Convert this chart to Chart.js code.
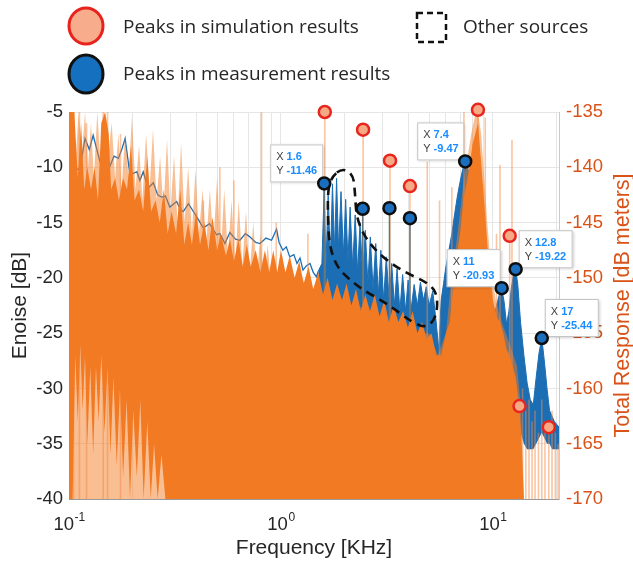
<!DOCTYPE html>
<html>
<head>
<meta charset="utf-8">
<title>Enoise and Total Response</title>
<script src="https://cdn.jsdelivr.net/npm/chart.js@4.4.0/dist/chart.umd.min.js"></script>
<style>
  html, body { margin: 0; padding: 0; background: #fff; }
  canvas { display: block; }
</style>
</head>
<body>
<canvas id="noiseChart" width="633" height="564"></canvas>
<script>
// ---- measurement (Enoise, left axis, dB) ----
const measLineFreq = [0.105,0.1127,0.119,0.1247,0.130,0.140,0.148,0.156,0.163,0.171,0.178,0.184,0.194,0.209,0.216,0.224,0.236,0.250,0.262,0.273,0.285,0.299,0.322,0.335,0.346,0.366,0.386,0.410,0.430,0.460,0.497,0.515,0.544,0.574,0.610,0.640,0.680,0.715,0.760,0.797,0.850,0.903,0.953,0.980,1.02,1.06,1.10,1.15,1.19,1.23,1.27,1.32,1.37,1.42,1.47,1.50];
const measLineVal = [-10.3,-10.1,-7.4,-8.4,-7.1,-9.5,-9.0,-9.9,-9.0,-9.2,-8.3,-7.4,-10.7,-10.4,-11.2,-10.4,-11.9,-11.4,-12.5,-12.7,-12.6,-13.6,-13.1,-13.8,-14.0,-13.3,-14.0,-14.8,-15.5,-15.1,-16.1,-16.0,-16.9,-15.9,-16.5,-16.6,-16.0,-16.3,-16.8,-16.9,-16.4,-16.6,-15.6,-16.8,-17.5,-17.2,-18.1,-17.9,-18.7,-18.2,-19.3,-18.9,-18.7,-19.5,-19.9,-19.4];

const measBandFreq = [1.50,1.56,1.60,1.63,1.67,1.71,1.75,1.79,1.83,1.87,
  1.92,1.97,2.02,2.07,2.12,2.18,2.24,2.30,2.36,2.43,
  2.50,2.57,2.64,2.72,2.80,2.88,2.96,3.05,3.14,3.24,
  3.33,3.43,3.53,3.64,3.75,3.87,3.98,4.10,4.25,4.40,
  4.55,4.70,4.85,5.00,5.20,5.40,5.55,5.70,5.85,6.00,
  6.20,6.40,6.60,6.80,7.00,7.20,7.40,7.60,7.80,8.00,
  8.30,8.60,8.90,9.20,9.60,10.0,10.4,10.8,11.0,11.3,
  11.6,11.9,12.2,12.5,12.8,13.1,13.5,14.0,14.5,15.0,
  15.5,16.0,16.5,17.0,17.5,18.0,18.5,19.0,19.5,20.5];
const measBandTop = [-19.4,-18.7,-11.8,-19.0,-12.3,-18.5,-11.5,-17.5,-11.0,-17.5,
  -12.2,-18.0,-12.9,-18.5,-13.6,-19.0,-14.3,-19.5,-15.0,-20.0,
  -15.7,-20.5,-16.3,-21.0,-16.9,-21.5,-17.5,-22.0,-18.1,-22.0,
  -18.7,-22.5,-19.2,-23.0,-19.7,-23.0,-20.2,-23.0,-20.6,-22.5,
  -20.4,-22.0,-20.8,-22.5,-21.2,-24.0,-26.5,-22.0,-20.5,-19.0,
  -17.5,-16.0,-14.2,-12.6,-11.3,-10.2,-9.5,-10.0,-10.9,-12.0,
  -14.0,-16.6,-19.0,-21.7,-24.5,-24.0,-22.5,-21.3,-20.9,-22.2,
  -24.2,-23.0,-21.0,-19.7,-19.2,-20.6,-24.0,-27.0,-29.5,-31.0,
  -31.5,-29.0,-26.8,-25.4,-27.6,-30.0,-32.0,-32.5,-33.0,-33.5];
const measBandBottom = [-20.5,-22,-22.5,-23,-23,-23,-23,-23,-23.5,-23.5,
  -24,-24,-24,-24,-24.5,-24.5,-24.5,-25,-25,-25,
  -25,-25,-25.5,-25.5,-25.5,-26,-26,-26,-26,-26,
  -26,-26.5,-26.5,-26.5,-26.5,-27,-27,-27,-27,-27,
  -27,-27.5,-27.5,-27.5,-27.5,-28,-28.5,-28,-28,-28,
  -28,-28,-28,-28,-28,-28,-28,-28,-28,-28,
  -28,-28,-29,-29.5,-30,-30,-30,-30,-30,-30.5,
  -31,-31,-31.5,-32,-32.5,-33,-34,-35,-35.5,-35.5,
  -35.5,-35,-34.5,-34,-34.5,-35,-35,-35.5,-35.5,-35.5];

// ---- simulation (Total Response, right axis, dB meters) ----
const simEnvFreq = [0.1,0.103,0.107,0.111,0.115,0.119,0.123,0.127,0.131,0.136,
  0.141,0.147,0.153,0.159,0.165,0.171,0.177,0.184,0.191,0.198,
  0.206,0.214,0.222,0.231,0.240,0.249,0.259,0.269,0.279,0.290,
  0.301,0.313,0.325,0.338,0.351,0.365,0.380,0.395,0.410,0.427,
  0.444,0.462,0.480,0.500,0.520,0.540,0.562,0.585,0.608,0.632,
  0.657,0.684,0.711,0.740,0.770,0.800,0.832,0.866,0.900,0.936,
  0.974,1.013,1.053,1.095,1.140,1.185,1.232,1.280,1.330,1.385,
  1.44,1.50,1.60,1.80,2.00,2.30,2.60,3.00,3.50,4.00,
  4.50,5.00,5.50,6.00,6.30,6.70,7.00,7.30,7.60,7.90,
  8.20,8.50,8.80,9.10,9.40,9.80,10.3,11.0,12.0,13.0,
  13.6,14.0,20.5];
const simEnvVal = [-135,-135,-140,-135,-139,-135,-140,-136,-141,-135,
  -140,-135,-139,-136,-141,-137,-142,-137,-141,-135.5,
  -142,-138,-143,-137,-142,-136.6,-143,-139,-144,-137.5,
  -144,-139,-145,-137.8,-145,-140,-146,-140.2,-146,-142,
  -147,-142,-147,-140.9,-148,-142,-148,-143,-149,-143,
  -149,-144,-150,-145,-150,-146,-151,-147,-151,-148,
  -152,-148,-152,-149,-153,-150,-153,-150,-154,-151,
  -154,-152,-153,-152,-153,-152.5,-153,-154,-154,-154.5,
  -155,-155,-157,-155,-151,-147,-144,-141,-139,-137,
  -135.5,-135,-137,-141,-145,-149,-152,-154,-156,-158,
  -162,-170,-170];

const simBodyFreq = [0.1,0.106,0.110,0.114,0.118,0.122,0.127,0.132,0.137,0.142,
  0.148,0.154,0.158,0.165,0.172,0.180,0.188,0.196,0.204,0.214,
  0.224,0.234,0.244,0.256,0.268,0.280,0.292,0.305,0.320,0.335,
  0.350,0.365,0.380,0.398,0.415,0.435,0.455,0.475,0.500,0.520,
  0.550,0.575,0.600,0.630,0.660,0.690,0.720,0.760,0.800,0.840,
  0.880,0.920,0.960,1.00,1.05,1.10,1.16,1.22,1.28,1.35,
  1.42,1.50,1.58,1.66,1.75,1.84,1.94,2.04,2.15,2.26,
  2.38,2.50,2.63,2.77,2.92,3.07,3.23,3.40,3.58,3.77,
  3.97,4.18,4.40,4.63,4.87,5.13,5.40,5.70,6.00,6.25,
  6.50,6.75,7.00,7.25,7.50,7.75,8.00,8.25,8.50,8.75,
  9.00,9.25,9.50,9.75,10.0,10.4,10.8,11.2,11.6,12.0,
  12.4,12.8,13.2,13.6,14.0,20.5];
const simBodyTop = [-135,-135,-141,-136,-142,-140,-142,-140,-143,-136,
  -135,-137,-142,-141,-143,-141,-142,-138,-143,-142,
  -144,-139,-144,-143,-145,-142,-146,-144,-146,-142,
  -147,-145,-147,-144,-147,-145,-147.5,-144.5,-147.5,-146,
  -148,-146.5,-148.5,-146.5,-149,-147,-149,-147.5,-149.5,-147.5,
  -149.5,-147.5,-149.5,-147.5,-149.5,-148,-150,-148.5,-150.5,-149,
  -151,-149.5,-151.5,-150,-152,-150.5,-152,-150.5,-152.5,-151,
  -153,-151.5,-153,-151.5,-153.5,-152,-154,-152.5,-154,-153,
  -154.5,-153,-155,-154,-155.5,-155,-157,-157,-155,-154,
  -151,-148,-146,-143,-141.5,-140,-138,-137,-136,-139,
  -142,-145,-148,-150,-152,-153.5,-154,-155,-156.5,-157,
  -158,-159,-161,-164,-170,-170];

const simBaseFreq = [0.100,0.104,0.107,0.110,0.113,0.116,0.119,0.122,0.126,0.130,
  0.134,0.138,0.142,0.147,0.152,0.157,0.162,0.168,0.174,0.180,
  0.187,0.194,0.201,0.209,0.217,0.225,0.234,0.243,0.252,0.262,
  0.273,0.285,20.5];
const simBaseVal = [-170,-170,-157,-163,-156,-162,-157,-165,-158,-166,
  -158,-163,-157,-164,-158,-166,-159,-167,-160,-168,
  -161,-170,-162,-168,-161,-170,-163,-170,-165,-170,
  -166,-170,-170];

// single tall simulation lines (bottom of axis up to the listed level)
const simLineFreq = [0.105,0.112,0.121,0.145,0.152,0.175,0.43,0.515,0.60,0.81,
  0.95,1.34,1.61,2.44,3.27,4.06,4.9,5.6,6.4,7.3,
  8.5,9.2,10.4,10.8,12.0,12.3,13.35,13.8,14.3,14.8,
  15.3,15.8,16.4,17.0,17.6,18.35,19.0,19.7,20.3];
const simLineTop = [-135,-135,-136,-135,-135,-137,-143,-140,-141.2,-135,
  -145,-146,-135,-136.6,-139.4,-141.7,-139.5,-143,-141.8,-135,
  -134.8,-135.5,-146,-139.8,-146.2,-137.5,-161.6,-160,-162,-161,
  -163,-162,-164,-161,-163,-163.5,-162,-164,-165];

// ---- peaks ----
const simPeakFreq = [1.61, 2.44, 3.27, 4.06, 8.5, 12.0, 13.35, 18.35];
const simPeakVal = [-135, -136.6, -139.4, -141.7, -134.8, -146.2, -161.6, -163.5];
const measPeakFreq = [1.6, 2.43, 3.25, 4.06, 7.4, 11, 12.8, 17];
const measPeakVal = [-11.46, -13.75, -13.7, -14.6, -9.47, -20.93, -19.22, -25.44];
const measPeakStem = [1, 1, 1, 1, 0, 0, 0, 0];

// data tips
const tipX = ['1.6', '7.4', '11', '12.8', '17'];
const tipFreq = [1.6, 7.4, 11, 12.8, 17];
const tipVal = [-11.46, -9.47, -20.93, -19.22, -25.44];
const tipSide = ['left', 'left', 'left', 'right', 'right'];

// "Other sources" outline (freq, Enoise dB)
const otherFreq = [1.96, 2.19, 2.23, 2.28, 2.72, 3.64, 5.04, 5.5, 5.39, 4.88, 4.2, 3.16, 2.28, 1.70, 1.65, 1.72];
const otherVal = [-10.06, -10.7, -12.05, -15.0, -17.4, -19.3, -20.5, -21.7, -23.6, -24.5, -24.1, -22.3, -20.8, -18.4, -12.7, -10.9];

// axis ticks
const xDecades = [0.1, 1, 10];
const xDecadeExp = ['-1', '0', '1'];

const BLUE = '#1b6db4';
const ORANGE = '#f27a23';
const RIGHT_COLOR = '#d95319';
const FONT = '"Liberation Sans", Arial, sans-serif';

function zip(xs, ys) {
    return xs.map(function (x, i) { return { x: x, y: ys[i] }; });
}

// vertical lines: bottom -> top, broken by a null point
var simLinePts = [];
simLineFreq.forEach(function (f, i) {
    simLinePts.push({ x: f, y: -170 }, { x: f, y: simLineTop[i] }, { x: f, y: null });
});
var stemPts = [];
measPeakFreq.forEach(function (f, i) {
    if (measPeakStem[i]) stemPts.push({ x: f, y: -40 }, { x: f, y: measPeakVal[i] }, { x: f, y: null });
});

// grid lines at 1..9 x each decade
var xGrid = [];
xDecades.forEach(function (d) {
    for (var k = 1; k <= 9; k++) {
        var v = +(d * k).toPrecision(3);
        if (v <= 20.5) xGrid.push(v);
    }
});

const BODY_INDEX = 6;
const NONE = 'rgba(0,0,0,0)';

function drawOtherSources(chart) {
    var ctx = chart.ctx, xs = chart.scales.x, ys = chart.scales.y;
    var pts = otherFreq.map(function (f, i) {
        return [xs.getPixelForValue(f), ys.getPixelForValue(otherVal[i])];
    });
    var n = pts.length;
    function mid(a, b) { return [(a[0] + b[0]) / 2, (a[1] + b[1]) / 2]; }
    ctx.save();
    ctx.beginPath();
    var m0 = mid(pts[n - 1], pts[0]);
    ctx.moveTo(m0[0], m0[1]);
    for (var i = 0; i < n; i++) {
        var m = mid(pts[i], pts[(i + 1) % n]);
        ctx.quadraticCurveTo(pts[i][0], pts[i][1], m[0], m[1]);
    }
    ctx.closePath();
    ctx.setLineDash([9, 6]);
    ctx.lineWidth = 2.6;
    ctx.strokeStyle = '#111';
    ctx.stroke();
    ctx.restore();
}

function drawTips(chart) {
    var ctx = chart.ctx, xs = chart.scales.x, ys = chart.scales.y;
    ctx.save();
    for (var i = 0; i < tipX.length; i++) {
        var px = xs.getPixelForValue(tipFreq[i]);
        var py = ys.getPixelForValue(tipVal[i]);
        var yText = tipVal[i].toFixed(2);
        ctx.font = '11px ' + FONT;
        var wLab = ctx.measureText('Y ').width;
        ctx.font = 'bold 11px ' + FONT;
        var wVal = Math.max(ctx.measureText(tipX[i]).width, ctx.measureText(yText).width);
        var w = Math.round(wLab + wVal + 12), h = 38;
        var bx = tipSide[i] === 'left' ? px - w - 1 : px + 3;
        var by = py - h - 1;
        ctx.shadowColor = 'rgba(0,0,0,0.25)';
        ctx.shadowBlur = 3;
        ctx.shadowOffsetX = 1;
        ctx.shadowOffsetY = 1;
        ctx.fillStyle = '#ffffff';
        ctx.fillRect(bx, by, w, h);
        ctx.shadowColor = 'rgba(0,0,0,0)';
        ctx.strokeStyle = '#c4c4c4';
        ctx.lineWidth = 1;
        ctx.strokeRect(bx + 0.5, by + 0.5, w - 1, h - 1);
        ctx.textBaseline = 'middle';
        ctx.textAlign = 'left';
        var tx = bx + 6;
        ctx.font = '11px ' + FONT;
        ctx.fillStyle = '#404040';
        ctx.fillText('X', tx, by + 12.5);
        ctx.fillText('Y', tx, by + 26.5);
        ctx.font = 'bold 11px ' + FONT;
        ctx.fillStyle = '#1a8cff';
        ctx.fillText(tipX[i], tx + wLab, by + 12.5);
        ctx.fillText(yText, tx + wLab, by + 26.5);
    }
    ctx.restore();
}

function drawAxisText(chart) {
    var ctx = chart.ctx, xs = chart.scales.x, area = chart.chartArea;
    var midY = (area.top + area.bottom) / 2;
    ctx.save();
    ctx.fillStyle = '#262626';
    // x tick labels 10^n
    xDecades.forEach(function (d, i) {
        var px = xs.getPixelForValue(d);
        ctx.font = '18.5px ' + FONT;
        var wb = ctx.measureText('10').width;
        ctx.font = '12px ' + FONT;
        var we = ctx.measureText(xDecadeExp[i]).width;
        var x0 = px - (wb + we) / 2;
        ctx.textAlign = 'left';
        ctx.textBaseline = 'alphabetic';
        ctx.font = '18.5px ' + FONT;
        ctx.fillText('10', x0, area.bottom + 31);
        ctx.font = '12px ' + FONT;
        ctx.fillText(xDecadeExp[i], x0 + wb + 0.5, area.bottom + 22);
    });
    // axis titles
    ctx.font = '21px ' + FONT;
    ctx.textAlign = 'center';
    ctx.textBaseline = 'middle';
    ctx.fillText('Frequency [KHz]', (area.left + area.right) / 2, area.bottom + 49);
    ctx.save();
    ctx.translate(20, midY);
    ctx.rotate(-Math.PI / 2);
    ctx.fillText('Enoise [dB]', 0, 0);
    ctx.restore();
    ctx.save();
    ctx.font = '21.5px ' + FONT;
    ctx.fillStyle = RIGHT_COLOR;
    ctx.translate(area.right + 64, midY);
    ctx.rotate(-Math.PI / 2);
    ctx.fillText('Total Response [dB meters]', 0, 0);
    ctx.restore();
    ctx.restore();
}

function drawLegend(chart) {
    var ctx = chart.ctx;
    ctx.save();
    // simulation peak symbol
    ctx.beginPath();
    ctx.ellipse(86, 26, 17, 18, 0, 0, Math.PI * 2);
    ctx.fillStyle = '#f7ad8b';
    ctx.fill();
    ctx.lineWidth = 3;
    ctx.strokeStyle = '#e8231d';
    ctx.stroke();
    // measurement peak symbol
    ctx.beginPath();
    ctx.ellipse(86, 74, 17, 19, 0, 0, Math.PI * 2);
    ctx.fillStyle = '#1570bf';
    ctx.fill();
    ctx.strokeStyle = '#111';
    ctx.stroke();
    // other sources symbol
    ctx.setLineDash([6, 4]);
    ctx.lineWidth = 2.5;
    ctx.strokeRect(417, 13, 29, 29);
    ctx.setLineDash([]);
    ctx.fillStyle = '#262626';
    ctx.font = '19px "Open Sans", sans-serif';
    ctx.textAlign = 'left';
    ctx.textBaseline = 'middle';
    ctx.fillText('Peaks in simulation results', 123, 28);
    ctx.fillText('Other sources', 463, 28);
    ctx.fillText('Peaks in measurement results', 123, 75);
    ctx.restore();
}

const overlayPlugin = {
    id: 'overlay',
    afterDatasetDraw: function (chart, args) {
        if (args.index !== BODY_INDEX) return;
        drawOtherSources(chart);
        drawTips(chart);
    },
    afterDraw: function (chart) {
        drawAxisText(chart);
        drawLegend(chart);
    }
};

Chart.defaults.font.family = FONT;

var ctx = document.getElementById('noiseChart').getContext('2d');
var noiseChart = new Chart(ctx, {
    type: 'line',
    data: {
        datasets: [
            { // 0 measurement band
                data: zip(measBandFreq, measBandTop), yAxisID: 'y',
                borderColor: BLUE, borderWidth: 1, backgroundColor: BLUE,
                fill: 1, pointRadius: 0, order: 9
            },
            { // 1 measurement band lower edge
                data: zip(measBandFreq, measBandBottom), yAxisID: 'y',
                borderColor: NONE, borderWidth: 1, fill: false, pointRadius: 0, order: 10
            },
            { // 2 measurement line
                data: zip(measLineFreq, measLineVal), yAxisID: 'y',
                borderColor: BLUE, borderWidth: 1.3, fill: false, pointRadius: 0, order: 8
            },
            { // 3 simulation spikes (translucent)
                data: zip(simEnvFreq, simEnvVal), yAxisID: 'y2',
                borderColor: NONE, borderWidth: 1, backgroundColor: 'rgba(243,125,35,0.5)',
                fill: 'start', pointRadius: 0, order: 7
            },
            { // 4 single tall lines
                data: simLinePts, yAxisID: 'y2', spanGaps: false,
                borderColor: 'rgba(244,140,70,0.5)', borderWidth: 1.6, fill: false, pointRadius: 0, order: 6
            },
            { // 5 stems under measurement peaks
                data: stemPts, yAxisID: 'y', spanGaps: false,
                borderColor: '#66767a', borderWidth: 1.5, fill: false, pointRadius: 0, order: 5
            },
            { // 6 simulation body
                data: zip(simBodyFreq, simBodyTop), yAxisID: 'y2',
                borderColor: NONE, borderWidth: 1, backgroundColor: ORANGE,
                fill: 7, pointRadius: 0, order: 4
            },
            { // 7 simulation body lower edge
                data: zip(simBaseFreq, simBaseVal), yAxisID: 'y2',
                borderColor: NONE, borderWidth: 1, fill: false, pointRadius: 0, order: 11
            },
            { // 8 simulation peaks
                data: zip(simPeakFreq, simPeakVal), yAxisID: 'y2', showLine: false,
                pointRadius: 6, pointBackgroundColor: '#f6a985', pointBorderColor: '#e8261e',
                pointBorderWidth: 2.5, clip: false, order: 1
            },
            { // 9 measurement peaks
                data: zip(measPeakFreq, measPeakVal), yAxisID: 'y', showLine: false,
                pointRadius: 6, pointBackgroundColor: '#1a6ebd', pointBorderColor: '#0d0d0d',
                pointBorderWidth: 2.5, clip: false, order: 0
            }
        ]
    },
    options: {
        responsive: false,
        animation: false,
        devicePixelRatio: 1,
        events: [],
        layout: { padding: { top: 112, left: 0, right: 0, bottom: 0 } },
        elements: { line: { tension: 0 } },
        plugins: { legend: { display: false }, tooltip: { enabled: false } },
        scales: {
            x: {
                type: 'logarithmic', min: 0.1, max: 20.5,
                afterBuildTicks: function (scale) {
                    scale.ticks = xGrid.map(function (v) { return { value: v }; });
                },
                afterFit: function (scale) { scale.height = 65; },
                ticks: { display: false },
                grid: { color: '#e6e6e6', drawTicks: false },
                border: { color: '#9a9a9a' }
            },
            y: {
                position: 'left', min: -40, max: -5,
                afterFit: function (scale) { scale.width = 69; },
                ticks: { stepSize: 5, padding: 6, color: '#262626', font: { size: 18.5 } },
                grid: { color: '#e6e6e6', drawTicks: false },
                border: { color: '#9a9a9a' }
            },
            y2: {
                position: 'right', min: -170, max: -135,
                afterFit: function (scale) { scale.width = 74; },
                ticks: { stepSize: 5, padding: 7, color: RIGHT_COLOR, font: { size: 18.5 } },
                grid: { drawOnChartArea: false, drawTicks: false },
                border: { color: '#f4bf9c' }
            }
        }
    },
    plugins: [overlayPlugin]
});
</script>
</body>
</html>
